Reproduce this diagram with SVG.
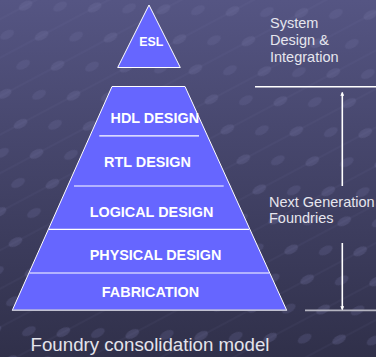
<svg xmlns="http://www.w3.org/2000/svg" width="376" height="357" viewBox="0 0 376 357">
<defs>
<linearGradient id="bg" x1="0" y1="0" x2="0" y2="1">
<stop offset="0" stop-color="#555583"/>
<stop offset="1" stop-color="#30304a"/>
</linearGradient>
<pattern id="tex" width="60" height="34" patternUnits="userSpaceOnUse" patternTransform="rotate(-28)">
<line x1="0" y1="17" x2="60" y2="17" stroke="#8080b0" stroke-opacity="0.15" stroke-width="0.8"/>
<ellipse cx="20" cy="17" rx="7.5" ry="4" fill="#7070a0" fill-opacity="0.3"/>
<ellipse cx="50" cy="0" rx="7.5" ry="4" fill="#7070a0" fill-opacity="0.25"/>
<ellipse cx="50" cy="34" rx="7.5" ry="4" fill="#7070a0" fill-opacity="0.25"/>
</pattern>
<marker id="ah" viewBox="0 0 6 6" refX="5" refY="3" markerWidth="4" markerHeight="4" orient="auto" markerUnits="userSpaceOnUse">
<path d="M0,0 L6,3 L0,6 z" fill="#ffffff"/>
</marker>
<style>
.lvl{fill:#6666ff;stroke:#ffffff;stroke-width:1}
.sep{stroke:#ffffff;stroke-width:1.2}
.lab{font-family:"Liberation Sans",Arial,sans-serif;font-weight:bold;fill:#ffffff;text-anchor:middle;font-size:14.4px}
.side{font-family:"Liberation Sans",Arial,sans-serif;fill:#e6e6ee;font-size:14.5px}
.conn{stroke:#ffffff;stroke-width:1.6;fill:none}
</style>
</defs>
<rect width="376" height="357" fill="url(#bg)"/>
<rect width="376" height="357" fill="url(#tex)"/>

<g id="esl">
<polygon class="lvl" points="149,5 117.7,67.5 180.3,67.5"/>
<text class="lab" x="151.3" y="46" style="font-size:12.4px">ESL</text>
</g>

<g id="pyramid">
<polygon class="lvl" points="112,86.5 185,86.5 286.7,310.3 12.3,310.3"/>
<line x1="12.3" y1="310.3" x2="286.7" y2="310.3" stroke="#c0c0d0" stroke-width="1.5"/>
</g>
<g id="hdl">
<text class="lab" x="154.8" y="122.5">HDL DESIGN</text>
<line class="sep" x1="99.3" y1="135.8" x2="199" y2="135.8"/>
</g>
<g id="rtl">
<text class="lab" x="147.5" y="166.7">RTL DESIGN</text>
<line class="sep" x1="74" y1="186" x2="223.7" y2="186"/>
</g>
<g id="logical">
<text class="lab" x="151.5" y="216.5">LOGICAL DESIGN</text>
<line class="sep" x1="49" y1="229.3" x2="249" y2="229.3"/>
</g>
<g id="physical">
<text class="lab" x="155.5" y="260.2">PHYSICAL DESIGN</text>
<line class="sep" x1="29.5" y1="273" x2="269" y2="273"/>
</g>
<g id="fabrication">
<text class="lab" x="150.5" y="297">FABRICATION</text>
</g>

<g id="labels">
<text class="side" x="270" y="27.5">System</text>
<text class="side" x="270" y="44.8">Design &amp;</text>
<text class="side" x="270" y="62">Integration</text>
<text class="side" x="269" y="206.5">Next Generation</text>
<text class="side" x="269" y="222.5">Foundries</text>
<text x="150" y="350.7" font-family="'Liberation Sans',Arial,sans-serif" font-size="18.7" fill="#e4e4ec" text-anchor="middle">Foundry consolidation model</text>
</g>

<g id="connectors">
<line class="conn" x1="255" y1="86.7" x2="376" y2="86.7" stroke-width="1.2"/>
<line x1="305" y1="310.3" x2="376" y2="310.3" stroke="#b4b4c0" stroke-width="1.8"/>
<line class="conn" x1="342.3" y1="186" x2="342.3" y2="92.5" marker-end="url(#ah)"/>
<line class="conn" x1="342.3" y1="243" x2="342.3" y2="309.5" marker-end="url(#ah)"/>
</g>
</svg>
